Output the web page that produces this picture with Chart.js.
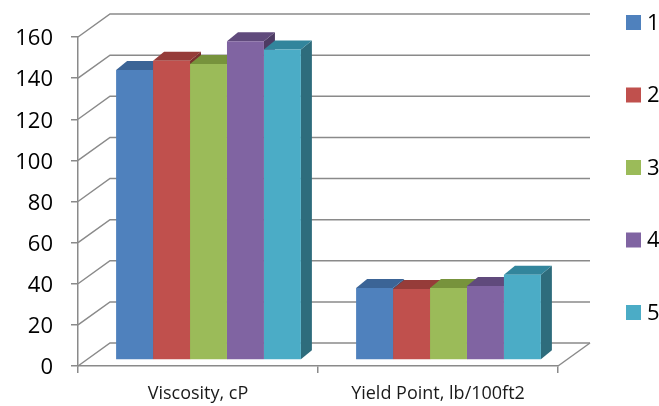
<!DOCTYPE html>
<html>
<head>
<meta charset="utf-8">
<script src="https://cdn.jsdelivr.net/npm/chart.js@4/dist/chart.umd.min.js"></script>
<style>
  body { margin: 0; background: #fff; }
  canvas { display: block; }
</style>
</head>
<body>
<canvas id="chart" width="659" height="406"></canvas>
<script>
// Chart data
const categories = ['Viscosity, cP', 'Yield Point, lb/100ft2'];
const seriesNames = ['1', '2', '3', '4', '5'];
const series1 = [141, 35];
const series2 = [145.5, 34.5];
const series3 = [144, 35];
const series4 = [155, 36];
const series5 = [151, 41.5];
const yMin = 0;
const yMax = 160;
const yStep = 20;

// Colors (front, top, side)
const frontColors = ['#4f81bd', '#c0504d', '#9bbb59', '#8064a2', '#4bacc6'];
const topColors = ['#3b6496', '#963c39', '#77933c', '#604a7c', '#32859c'];
const sideColors = ['#2f5179', '#7a302e', '#5f7630', '#4d3b63', '#2e6c7c'];

const gridColor = '#8a8a8a';
const fontFamily = '"Open Sans", "Liberation Sans", sans-serif';

// 3D offsets
const wallDX = 32, wallDY = -23;   // depth of the back wall
const barDX = 10.5, barDY = -6;    // bar front face position
const topDX = 11, topDY = -9;      // bar depth

// Back walls, gridlines and the top/side faces of the bars
const wallsPlugin = {
    id: 'walls',
    beforeDatasetsDraw(chart) {
        const ctx = chart.ctx;
        const y = chart.scales.y;
        const area = chart.chartArea;
        ctx.save();
        ctx.strokeStyle = gridColor;
        ctx.lineWidth = 1.5;
        y.ticks.forEach(t => {
            const py = y.getPixelForValue(t.value);
            ctx.beginPath();
            ctx.moveTo(area.left, py);
            ctx.lineTo(area.left + wallDX, py + wallDY);
            ctx.lineTo(area.right + wallDX, py + wallDY);
            ctx.stroke();
        });
        // floor right edge
        const p0 = y.getPixelForValue(0);
        ctx.beginPath();
        ctx.moveTo(area.right, p0);
        ctx.lineTo(area.right + wallDX, p0 + wallDY);
        ctx.stroke();
        ctx.restore();

        // shift bars into the depth
        ctx.save();
        ctx.translate(barDX, barDY);

        const metas = chart.data.datasets.map((ds, i) => chart.getDatasetMeta(i));
        // side faces first
        metas.forEach((meta, i) => {
            meta.data.forEach(bar => {
                const right = bar.x + bar.width / 2;
                ctx.fillStyle = sideColors[i];
                ctx.beginPath();
                ctx.moveTo(right, bar.y);
                ctx.lineTo(right + topDX, bar.y + topDY);
                ctx.lineTo(right + topDX, bar.base + topDY);
                ctx.lineTo(right, bar.base);
                ctx.closePath();
                ctx.fill();
            });
        });
        // then top faces
        metas.forEach((meta, i) => {
            meta.data.forEach(bar => {
                const left = bar.x - bar.width / 2;
                const right = bar.x + bar.width / 2;
                ctx.fillStyle = topColors[i];
                ctx.beginPath();
                ctx.moveTo(left, bar.y);
                ctx.lineTo(left + topDX, bar.y + topDY);
                ctx.lineTo(right + topDX, bar.y + topDY);
                ctx.lineTo(right, bar.y);
                ctx.closePath();
                ctx.fill();
            });
        });
    },
    afterDatasetsDraw(chart) {
        chart.ctx.restore();
    }
};

// Legend on the right
const legendPlugin = {
    id: 'sideLegend',
    afterDraw(chart) {
        const ctx = chart.ctx;
        ctx.save();
        ctx.font = '22px ' + fontFamily;
        ctx.textBaseline = 'middle';
        chart.data.datasets.forEach((ds, i) => {
            const cy = 22.5 + i * 72.5;
            ctx.fillStyle = ds.backgroundColor;
            ctx.fillRect(626, cy - 7.5, 15, 15);
            ctx.fillStyle = '#000';
            ctx.fillText(ds.label, 647, cy + 1);
        });
        ctx.restore();
    }
};

const seriesValues = [series1, series2, series3, series4, series5];

const ctx = document.getElementById('chart').getContext('2d');
new Chart(ctx, {
    type: 'bar',
    data: {
        labels: categories,
        datasets: seriesValues.map((values, i) => ({
            label: seriesNames[i],
            data: values,
            backgroundColor: frontColors[i],
            borderWidth: 0,
            clip: false
        }))
    },
    options: {
        responsive: false,
        animation: false,
        events: [],
        layout: {
            padding: { top: 37, right: 101, bottom: 0, left: 0 }
        },
        datasets: {
            bar: {
                categoryPercentage: 0.77,
                barPercentage: 1
            }
        },
        plugins: {
            legend: { display: false },
            tooltip: { enabled: false }
        },
        scales: {
            x: {
                grid: {
                    drawOnChartArea: false,
                    color: gridColor,
                    lineWidth: 1.5,
                    tickLength: 7,
                    offset: true
                },
                border: { color: gridColor, width: 1.5 },
                ticks: {
                    color: '#1a1a1a',
                    padding: 10,
                    font: { family: fontFamily, size: 18 },
                    maxRotation: 0
                },
                afterFit(scale) { scale.height = 40; }
            },
            y: {
                min: yMin,
                max: yMax,
                grid: {
                    drawOnChartArea: false,
                    color: gridColor,
                    lineWidth: 1.5,
                    tickLength: 7
                },
                border: { color: gridColor, width: 1.5 },
                ticks: {
                    stepSize: yStep,
                    color: '#000',
                    padding: 18,
                    labelOffset: 2,
                    font: { family: fontFamily, size: 22 }
                },
                afterFit(scale) { scale.width = 78; }
            }
        }
    },
    plugins: [wallsPlugin, legendPlugin]
});
</script>
</body>
</html>
